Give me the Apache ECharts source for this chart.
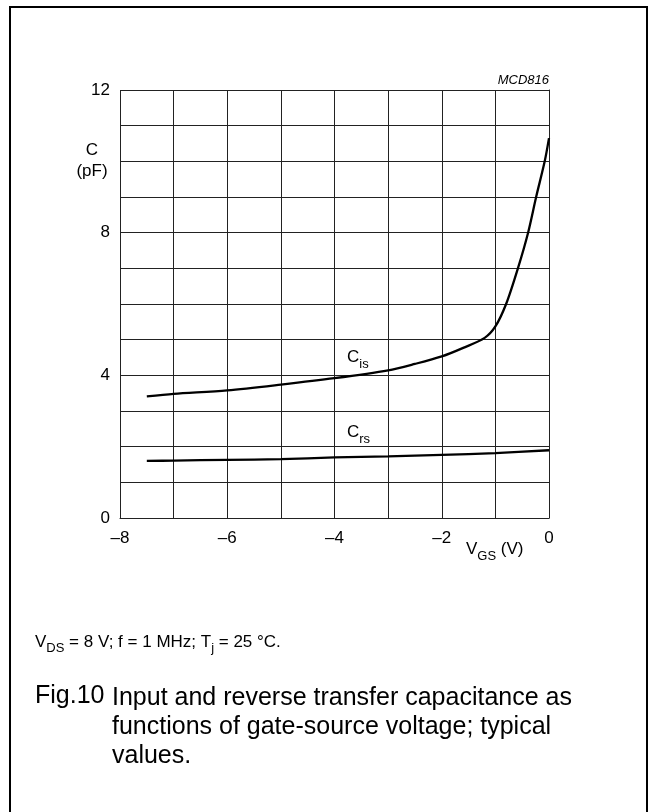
<!DOCTYPE html>
<html>
<head>
<meta charset="utf-8">
<script src="https://cdn.jsdelivr.net/npm/echarts@6/dist/echarts.min.js"></script>
<style>html,body{margin:0;padding:0;background:#fff}#c{width:656px;height:812px}</style>
</head>
<body>
<div id="c"></div>
<script>
// Data
var xTicks = [-8, -6, -4, -2, 0];
var yTicks = [0, 4, 8, 12];
var cisData = [[-7.5,3.41],[-7,3.48],[-6,3.58],[-5,3.74],[-4,3.92],[-3,4.14],[-2.5,4.32],[-2,4.53],[-1.6,4.77],[-1.2,5.05],[-1.0,5.37],[-0.8,6.0],[-0.58,7.0],[-0.39,8.0],[-0.24,9.0],[-0.08,10.0],[0,10.65]];
var crsData = [[-7.5,1.60],[-7,1.61],[-6,1.63],[-5,1.65],[-4,1.70],[-3,1.73],[-2,1.77],[-1,1.82],[0,1.90]];

var FONT = 'Liberation Sans, Arial, sans-serif';
var chart = echarts.init(document.getElementById('c'), null, {renderer: 'canvas'});

function fmtX(v){ if (xTicks.indexOf(v) < 0) return ''; return v < 0 ? '\u2013' + Math.abs(v) : String(v); }
function fmtY(v){ return yTicks.indexOf(v) < 0 ? '' : String(v); }

var normal = {fontSize: 17, fontFamily: FONT, color: '#000', lineHeight: 17, verticalAlign: 'top'};
var sub = {fontSize: 13, fontFamily: FONT, color: '#000', lineHeight: 13, verticalAlign: 'top', padding: [9, 0, 0, 0]};
var nSmall = {fontSize: 17, fontFamily: FONT, color: '#000', lineHeight: 17, verticalAlign: 'top'};
var sSmall = {fontSize: 13, fontFamily: FONT, color: '#000', lineHeight: 13, verticalAlign: 'top', padding: [8, 0, 0, 0]};

chart.setOption({
  animation: false,
  backgroundColor: '#fff',
  grid: {left: 120, right: 107, top: 90, bottom: 294, containLabel: false},
  xAxis: {
    type: 'value', min: -8, max: 0, interval: 1,
    axisLine: {show: true, onZero: false, lineStyle: {color: '#222', width: 1}},
    axisTick: {show: false},
    splitLine: {show: true, lineStyle: {color: '#222', width: 1}},
    axisLabel: {formatter: fmtX, fontSize: 17, fontFamily: FONT, color: '#000', margin: 12, showMaxLabel: true, showMinLabel: true}
  },
  yAxis: {
    type: 'value', min: 0, max: 12, interval: 1,
    axisLine: {show: true, lineStyle: {color: '#222', width: 1}},
    axisTick: {show: false},
    splitLine: {show: true, lineStyle: {color: '#222', width: 1}},
    axisLabel: {formatter: fmtY, fontSize: 17, fontFamily: FONT, color: '#000', margin: 10, showMaxLabel: true, showMinLabel: true}
  },
  series: [
    {name: 'Cis', type: 'line', data: cisData, smooth: 0.3, showSymbol: false, lineStyle: {color: '#000', width: 2.3}},
    {name: 'Crs', type: 'line', data: crsData, smooth: 0.3, showSymbol: false, lineStyle: {color: '#000', width: 2.3}}
  ],
  graphic: [
    {type: 'rect', shape: {x: 10, y: 7, width: 637, height: 830}, style: {fill: 'none', stroke: '#000', lineWidth: 2}, silent: true},
    {type: 'text', x: 549, y: 80, style: {text: 'MCD816', font: 'italic 13px ' + FONT, fill: '#000', align: 'right', verticalAlign: 'middle'}},
    {type: 'text', x: 92, y: 150, style: {text: 'C', font: '17px ' + FONT, fill: '#000', align: 'center', verticalAlign: 'middle'}},
    {type: 'text', x: 92, y: 171, style: {text: '(pF)', font: '17px ' + FONT, fill: '#000', align: 'center', verticalAlign: 'middle'}},
    {type: 'text', x: 347, y: 349, style: {text: '{n|C}{s|is}', rich: {n: normal, s: sub}}},
    {type: 'text', x: 347, y: 424, style: {text: '{n|C}{s|rs}', rich: {n: normal, s: sub}}},
    {type: 'text', x: 466, y: 541, style: {text: '{n|V}{s|GS}{n| (V)}', rich: {n: normal, s: sub}}},
    {type: 'text', x: 35, y: 634, style: {text: '{n|V}{s|DS}{n| = 8 V; f = 1 MHz; T}{s|j}{n| = 25 \u00B0C.}', rich: {n: nSmall, s: sSmall}}},
    {type: 'text', x: 35, y: 684, style: {text: 'Fig.10', font: '25px ' + FONT, fill: '#000'}},
    {type: 'text', x: 112, y: 684, style: {text: 'Input and reverse transfer capacitance as\nfunctions of gate-source voltage; typical\nvalues.', font: '25px ' + FONT, fill: '#000', lineHeight: 29}}
  ]
});
</script>
</body>
</html>
